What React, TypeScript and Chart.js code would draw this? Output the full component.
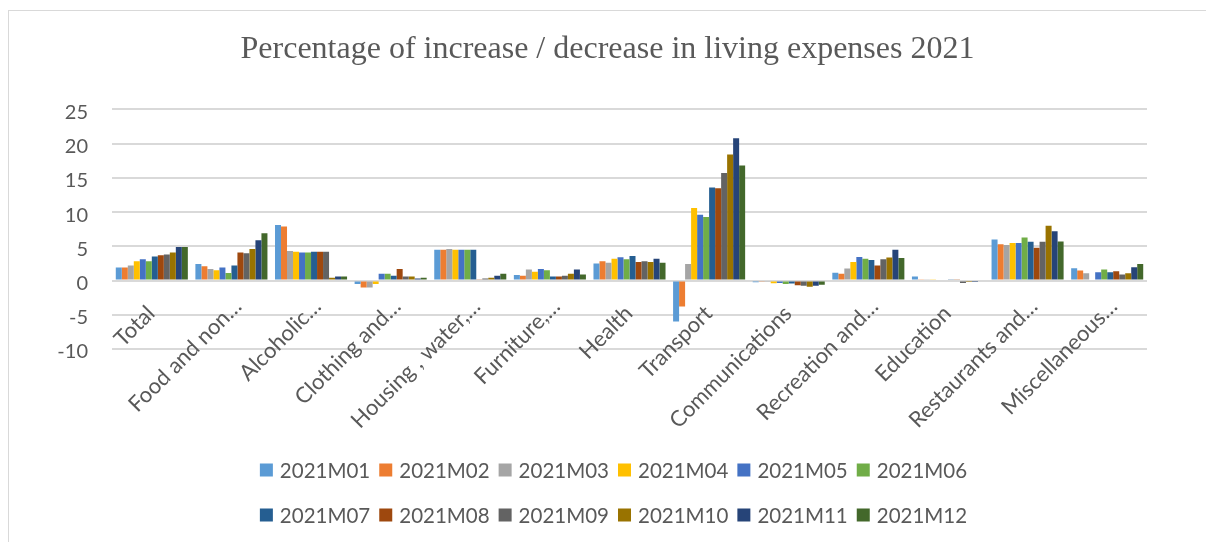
import { useEffect, useRef } from "react";
import { Chart, registerables } from "chart.js";

Chart.register(...registerables);

// Expense groups along the x axis (labels shortened as shown on the axis)
const categories = [
  "Total",
  "Food and non…",
  "Alcoholic…",
  "Clothing and…",
  "Housing , water,…",
  "Furniture,…",
  "Health",
  "Transport",
  "Communications",
  "Recreation and…",
  "Education",
  "Restaurants and…",
  "Miscellaneous…",
];

const months = [
  "2021M01", "2021M02", "2021M03", "2021M04", "2021M05", "2021M06",
  "2021M07", "2021M08", "2021M09", "2021M10", "2021M11", "2021M12",
];

const monthColors = [
  "#5B9BD5", "#ED7D31", "#A5A5A5", "#FFC000", "#4472C4", "#70AD47",
  "#255E91", "#9E480E", "#636363", "#997300", "#264478", "#43682B",
];

// Monthly % change per expense group, M01..M12
const total = [1.9, 1.9, 2.2, 2.8, 3.1, 2.8, 3.5, 3.7, 3.8, 4.1, 4.9, 4.9];
const food = [2.4, 2.1, 1.7, 1.5, 1.9, 1.1, 2.2, 4.1, 4.0, 4.6, 5.9, 6.9];
const alcoholic = [8.1, 7.9, 4.3, 4.2, 4.1, 4.1, 4.2, 4.2, 4.2, 0.4, 0.6, 0.6];
const clothing = [-0.5, -1.0, -1.0, -0.5, 1.0, 1.0, 0.7, 1.7, 0.6, 0.6, 0.3, 0.4];
const housing = [4.5, 4.5, 4.6, 4.5, 4.5, 4.5, 4.5, 0.2, 0.3, 0.4, 0.7, 1.0];
const furniture = [0.8, 0.7, 1.6, 1.3, 1.7, 1.5, 0.6, 0.6, 0.7, 1.0, 1.6, 0.9];
const health = [2.5, 2.8, 2.6, 3.2, 3.4, 3.1, 3.6, 2.7, 2.8, 2.7, 3.2, 2.6];
const transport = [-6.0, -3.8, 2.4, 10.6, 9.6, 9.3, 13.6, 13.5, 15.7, 18.4, 20.8, 16.8];
const communications = [-0.25, -0.1, -0.1, -0.4, -0.35, -0.5, -0.45, -0.7, -0.75, -0.9, -0.75, -0.6];
const recreation = [1.15, 1.0, 1.75, 2.7, 3.45, 3.2, 3.0, 2.2, 3.1, 3.35, 4.5, 3.3];
const education = [0.6, 0.2, 0.1, 0.1, 0.15, 0.15, 0.1, 0.1, -0.35, -0.2, -0.2, -0.15];
const restaurants = [6.0, 5.3, 5.2, 5.5, 5.5, 6.3, 5.65, 4.8, 5.65, 8.0, 7.2, 5.7];
const miscellaneous = [1.8, 1.45, 1.05, 0.15, 1.2, 1.6, 1.2, 1.35, 0.9, 1.05, 1.95, 2.4];

const groupRows = [
  total, food, alcoholic, clothing, housing, furniture, health,
  transport, communications, recreation, education, restaurants, miscellaneous,
];

const yTicks = [-10, -5, 0, 5, 10, 15, 20, 25];

const TEXT_COLOR = "#595959";
const GRID_COLOR = "#D9D9D9";
const LABEL_FONT = "Lato, 'Open Sans', sans-serif";

// Slanted category names hung just under the zero line of the value axis
const categoryLabels = {
  id: "categoryLabels",
  afterDatasetsDraw(chart: any) {
    const { ctx } = chart;
    const xScale = chart.scales.x;
    const yScale = chart.scales.y;
    const top = yScale.getPixelForValue(0) + 20;
    ctx.save();
    ctx.font = `22px ${LABEL_FONT}`;
    ctx.fillStyle = TEXT_COLOR;
    ctx.textAlign = "right";
    ctx.textBaseline = "middle";
    categories.forEach((name, i) => {
      const x = xScale.getPixelForValue(i) - 10;
      // shortened names sit a bit further along their slant
      const along = name.endsWith("…") ? 10 : 0;
      ctx.save();
      ctx.translate(x, top);
      ctx.rotate(-Math.PI / 4);
      ctx.fillText(name, along, 13.2);
      ctx.restore();
    });
    ctx.restore();
  },
};

// Two-row legend of six months each, drawn under the plot
const monthLegend = {
  id: "monthLegend",
  afterDraw(chart: any) {
    const { ctx } = chart;
    const perRow = 6;
    const box = 13;
    const gap = 7;
    const spacing = 9;
    const centerX = 604.5;
    const rowY = [459, 504];
    ctx.save();
    ctx.font = `20.5px ${LABEL_FONT}`;
    ctx.textBaseline = "middle";
    ctx.textAlign = "left";
    const datasets = chart.data.datasets;
    for (let r = 0; r * perRow < datasets.length; r++) {
      const items = datasets.slice(r * perRow, r * perRow + perRow);
      const widths = items.map((d: any) => box + gap + ctx.measureText(d.label).width);
      const rowWidth = widths.reduce((a: number, b: number) => a + b, 0) + spacing * (items.length - 1);
      let x = centerX - rowWidth / 2;
      const y = rowY[r];
      items.forEach((d: any, i: number) => {
        ctx.fillStyle = d.backgroundColor;
        ctx.fillRect(x, y - box / 2, box, box);
        ctx.fillStyle = TEXT_COLOR;
        ctx.fillText(d.label, x + box + gap, y + 1);
        x += widths[i] + spacing;
      });
    }
    ctx.restore();
  },
};

export default function App() {
  const canvasRef = useRef<HTMLCanvasElement | null>(null);

  useEffect(() => {
    if (!canvasRef.current) return;
    const datasets = months.map((m, i) => ({
      label: m,
      data: groupRows.map((row) => row[i]),
      backgroundColor: monthColors[i],
      borderWidth: 0,
      categoryPercentage: 0.905,
      barPercentage: 1,
    }));

    const chart = new Chart(canvasRef.current, {
      type: "bar",
      data: { labels: categories, datasets },
      plugins: [categoryLabels, monthLegend],
      options: {
        responsive: false,
        animation: false,
        layout: { padding: { left: 0, right: 0, top: 0, bottom: 193 } },
        plugins: {
          legend: { display: false },
          tooltip: { enabled: false },
          title: {
            display: true,
            text: "Percentage of increase / decrease in living expenses 2021",
            color: TEXT_COLOR,
            font: { family: "'Liberation Serif', 'Times New Roman', serif", size: 32, weight: "normal", lineHeight: 1.2 },
            padding: { top: 19, bottom: 41 },
          },
        },
        scales: {
          x: {
            grid: { display: false, drawTicks: false },
            border: { display: false },
            ticks: { display: false },
            afterFit(scale: any) {
              scale.height = 0;
            },
          },
          y: {
            min: -10,
            max: 25,
            afterBuildTicks(scale: any) {
              scale.ticks = yTicks.map((v) => ({ value: v }));
            },
            grid: { color: GRID_COLOR, lineWidth: 2, drawTicks: false },
            border: { display: false },
            ticks: {
              padding: 24,
              labelOffset: 3,
              color: TEXT_COLOR,
              font: { family: LABEL_FONT, size: 20 },
            },
            afterFit(scale: any) {
              scale.width = 103;
            },
          },
          // empty strip on the right so the plot ends short of the frame
          edge: {
            type: "linear",
            position: "right",
            display: true,
            grid: { display: false, drawTicks: false },
            border: { display: false },
            ticks: { display: false },
            afterFit(scale: any) {
              scale.width = 59;
            },
          },
        },
      },
    } as any);

    return () => chart.destroy();
  }, []);

  return (
    <div
      style={{
        position: "fixed",
        left: 8,
        top: 10,
        width: 1198,
        height: 532,
        borderTop: `1px solid ${GRID_COLOR}`,
        borderLeft: `1px solid ${GRID_COLOR}`,
        boxSizing: "border-box",
        background: "#fff",
      }}
    >
      <canvas ref={canvasRef} width={1197} height={531} style={{ display: "block" }} />
    </div>
  );
}
